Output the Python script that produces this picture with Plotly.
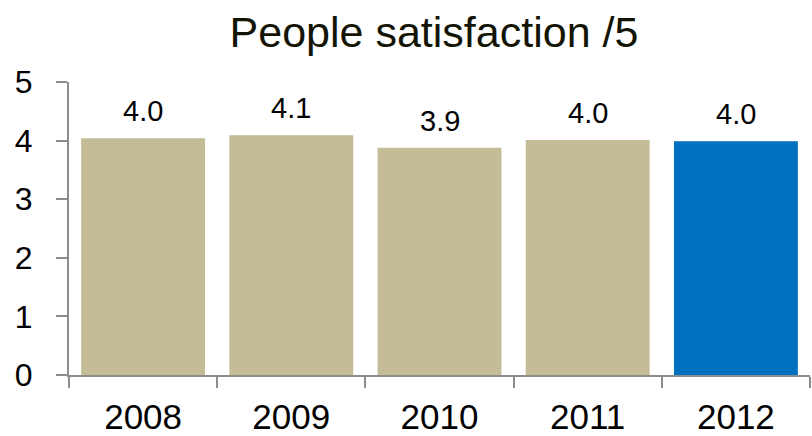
import plotly.graph_objects as go

# Survey results: average people satisfaction score (out of 5) per year
years = ["2008", "2009", "2010", "2011", "2012"]
scores = [4.04, 4.09, 3.88, 4.01, 3.99]
bar_colors = ["#C4BC96", "#C4BC96", "#C4BC96", "#C4BC96", "#0070C0"]
y_ticks = [0, 1, 2, 3, 4, 5]

FONT = "Liberation Sans, Arial, Helvetica, sans-serif"
AXIS_GREY = "#8C8C8C"

fig = go.Figure(
    go.Bar(
        x=years,
        y=scores,
        marker=dict(color=bar_colors, line=dict(width=0)),
        hoverinfo="skip",
    )
)

# Value labels sitting above each bar (category index on the x axis)
for i, val in enumerate(scores):
    fig.add_annotation(
        x=i, y=val, text=f"{val:.1f}", showarrow=False,
        xanchor="center", yanchor="bottom", yshift=9,
        font=dict(family=FONT, size=29, color="#000000"),
    )

fig.update_layout(
    width=812, height=436,
    margin=dict(l=69, r=2, t=82, b=61),
    paper_bgcolor="white", plot_bgcolor="white",
    bargap=0.164,
    showlegend=False,
    title=dict(
        text="People satisfaction /5",
        x=434 / 812, xref="container", xanchor="center",
        y=1 - 32 / 436, yref="container", yanchor="middle",
        font=dict(family=FONT, size=43, color="#141405"),
    ),
    xaxis=dict(
        type="category", range=[-0.5, len(years) - 0.5],
        showline=True, linecolor=AXIS_GREY, linewidth=2,
        ticks="outside", tickson="boundaries", ticklen=11,
        tickcolor=AXIS_GREY, tickwidth=2, tickangle=0,
        tickfont=dict(family=FONT, size=35, color="#000000"),
        ticklabelstandoff=10,
        showgrid=False, zeroline=False, automargin=False,
    ),
    yaxis=dict(
        range=[0, 5], tickvals=y_ticks,
        showline=True, linecolor=AXIS_GREY, linewidth=2,
        ticks="outside", ticklen=11, tickcolor=AXIS_GREY, tickwidth=2,
        tickfont=dict(family=FONT, size=32, color="#000000"),
        ticklabelstandoff=17,
        showgrid=False, zeroline=False, automargin=False,
    ),
)

fig.write_html("out.html")
